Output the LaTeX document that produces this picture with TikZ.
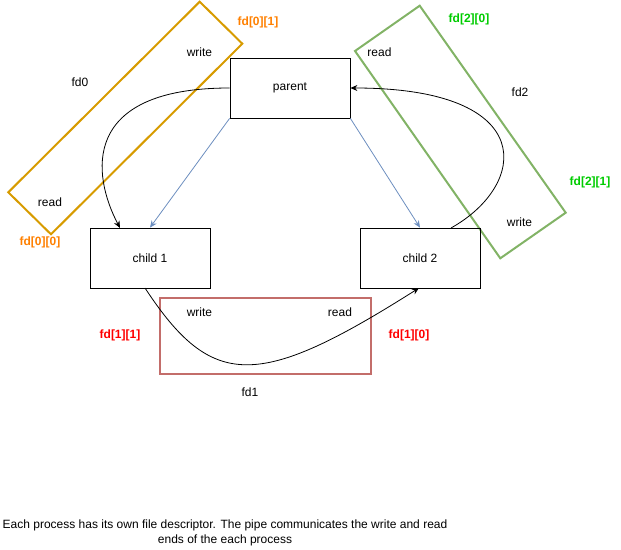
\documentclass[tikz,border=0pt]{standalone}
\usepackage{fontspec}
\setmainfont{Liberation Sans}
\usetikzlibrary{arrows.meta}
\definecolor{orangeline}{HTML}{D79B00}
\definecolor{greenline}{HTML}{82B366}
\definecolor{redline}{HTML}{B85450}
\definecolor{blueline}{HTML}{6C8EBF}
\definecolor{orangetxt}{HTML}{FF8000}
\definecolor{greentxt}{HTML}{00CC00}
\definecolor{redtxt}{HTML}{FF0000}
\begin{document}
\begin{tikzpicture}[x=1pt,y=-1pt,
  every node/.style={font=\fontsize{12pt}{14pt}\selectfont, inner sep=0pt},
  proc/.style={draw=black, line width=0.8pt, minimum width=120pt, minimum height=60pt},
  lbl/.style={},
  fdlbl/.style={font=\fontsize{12pt}{14pt}\selectfont\bfseries},
  pipeo/.style={draw=orangeline, line width=2pt, line join=miter},
  pipeg/.style={draw=greenline, line width=2pt, line join=miter},
  piper/.style={draw=redline, draw opacity=0.85, line width=2pt},
  blk/.style={draw=black, line width=0.8pt, -{Stealth[length=7pt,width=6pt]}},
  blu/.style={draw=blueline, line width=0.8pt, -{Stealth[length=7pt,width=6pt]}}
]
\useasboundingbox (0,0) rectangle (621,549);
% pipe rectangles
\draw[pipeo] (199.7,1.7) -- (242.3,43.7) -- (51,234.3) -- (8.3,192.3) -- cycle;
\draw[pipeg] (419.7,5.7) -- (565.7,212.7) -- (500.3,258.3) -- (355,51) -- cycle;
\draw[piper] (160,298.3) rectangle (371,373.5);
% processes
\node[proc] (parent) at (290,88) {parent};
\node[proc] (child1) at (150,258) {child 1};
\node[proc] (child2) at (420,258) {child 2};
% blue arrows
\draw[blu] (parent.south west) -- (child1.north);
\draw[blu] (parent.south east) -- (child2.north);
% black curves
\coordinate (c1in) at (120,228);
\coordinate (c2out) at (451,228);
\coordinate (c1out) at (145,288);
\coordinate (c2in) at (419,288);
\draw[blk] (parent.west) .. controls (80,88) and (92,175) .. (c1in);
\draw[blk] (c2out) .. controls (528,185) and (540,88) .. (parent.east);
\draw[blk] (c1out) .. controls (212,390) and (258,390) .. (c2in);
% labels
\node[lbl] (w0) at (199.5,52.5) {write};
\node[lbl] (n0) at (80,82.5) {fd0};
\node[lbl] (r0) at (50,202.5) {read};
\node[fdlbl, text=orangetxt] (f01) at (258,22.5) {fd[0][1]};
\node[fdlbl, text=orangetxt] (f00) at (40,242.5) {fd[0][0]};
\node[lbl] (r2) at (379.5,52.5) {read};
\node[lbl] (n2) at (520,92.5) {fd2};
\node[lbl] (w2) at (519.5,222.5) {write};
\node[fdlbl, text=greentxt] (f20) at (469,19.5) {fd[2][0]};
\node[fdlbl, text=greentxt] (f21) at (590,182.5) {fd[2][1]};
\node[lbl] (w1) at (199.5,312.5) {write};
\node[lbl] (r1) at (340,312.5) {read};
\node[lbl] (n1) at (250,392.5) {fd1};
\node[fdlbl, text=redtxt] (f11) at (120,335) {fd[1][1]};
\node[fdlbl, text=redtxt] (f10) at (409,335) {fd[1][0]};
\node[lbl, align=center, font=\fontsize{12pt}{15pt}\selectfont] (cap) at (225,533) {Each process has its own file descriptor. The pipe communicates the write and read\\ends of the each process};
\end{tikzpicture}
\end{document}
